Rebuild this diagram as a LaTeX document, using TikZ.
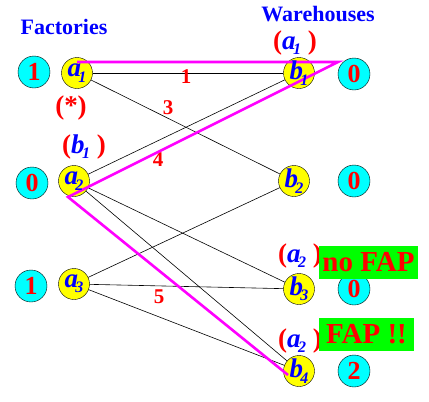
\documentclass[tikz,border=0pt]{standalone}
\usepackage{fontspec}
\setmainfont{Liberation Serif}
\definecolor{mag}{RGB}{255,0,255}
\definecolor{cy}{RGB}{0,255,255}
\definecolor{ye}{RGB}{255,255,0}
\definecolor{gr}{RGB}{0,255,0}
\definecolor{bl}{RGB}{0,0,255}
\definecolor{rd}{RGB}{255,0,0}
\newcommand{\lab}[2]{\textcolor{bl}{\fontsize{27}{27}\selectfont\bfseries\itshape #1\kern-0.1em\raisebox{-0.2em}{\fontsize{16}{16}\selectfont #2}}}
\newcommand{\plab}[2]{\textcolor{rd}{(}\lab{#1}{#2}\textcolor{rd}{\ )}}
\begin{document}
\begin{tikzpicture}[x=1pt,y=-1pt,
  fac/.style={circle,draw,fill=ye,minimum size=31pt,inner sep=0pt},
  ftext/.style={inner sep=0pt},
  numc/.style={circle,draw,fill=cy,minimum size=32pt,inner sep=0pt,text=rd,font=\fontsize{26}{26}\selectfont\bfseries},
  head/.style={text=bl,font=\fontsize{22}{22}\selectfont\bfseries},
  wlab/.style={text=rd,font=\fontsize{21}{21}\selectfont\bfseries},
  plabel/.style={text=rd,font=\fontsize{27}{27}\selectfont\bfseries,inner sep=0pt},
  fap/.style={fill=gr,text=rd,font=\fontsize{29}{29}\selectfont\bfseries,inner sep=0pt,minimum height=33pt},
  edge/.style={draw,line width=0.6pt},
  path/.style={draw=mag,line width=2.6pt}
]
\useasboundingbox (0,0) rectangle (429,402);
\fill[white] (0,0) rectangle (429,402);
% headings
\node[head] (hf) at (64,27) {Factories};
\node[head] (hw) at (318,14) {Warehouses};
% supply / demand numbers
\node[numc] (s1) at (34,72) {1};
\node[numc] (s2) at (32,183) {0};
\node[numc] (s3) at (31,286) {1};
\node[numc] (d1) at (354,74) {0};
\node[numc] (d2) at (354,181) {0};
\node[numc] (d3) at (354,289) {0};
\node[numc] (d4) at (354,371) {2};
% factories and warehouses
\node[fac] (a1) at (77,73) {};
\node[fac] (a2) at (74,181) {};
\node[fac] (a3) at (74,284) {};
\node[fac] (b1) at (299,73) {};
\node[fac] (b2) at (294,181) {};
\node[fac] (b3) at (299,289) {};
\node[fac] (b4) at (299,371) {};
% edges
\draw[edge] (a1) -- (b1);
\draw[edge] (a1) -- (b2);
\draw[edge] (a2) -- (b1);
\draw[edge] (a2) -- (b3);
\draw[edge] (a2) -- (b4);
\draw[edge] (a3) -- (b2);
\draw[edge] (a3) -- (b3);
\draw[edge] (a3) -- (b4);
% edge labels
\node[wlab] (w1) at (186,77) {1};
\node[wlab] (w3) at (168,108) {3};
\node[wlab] (w4) at (158,160) {4};
\node[wlab] (w5) at (159,297) {5};
% magenta path
\coordinate (m1) at (77,62);
\coordinate (m2) at (338,62);
\coordinate (m3) at (68,197);
\coordinate (m4) at (288,375);
\draw[path,line join=miter] (m1) -- (m2) -- (m3) -- (m4);
% node texts (on top of the path)
\node[ftext] (a1t) at (a1) {\lab{a}{1}};
\node[ftext] (a2t) at (a2) {\lab{a}{2}};
\node[ftext] (a3t) at (a3) {\lab{a}{3}};
\node[ftext] (b1t) at (b1) {\lab{b}{1}};
\node[ftext] (b2t) at (b2) {\lab{b}{2}};
\node[ftext] (b3t) at (b3) {\lab{b}{3}};
\node[ftext] (b4t) at (b4) {\lab{b}{4}};
% labels
\node[plabel] (star) at (71,108) {(*)};
\node[plabel] (lb1) at (84,147) {\plab{b}{1}};
\node[plabel] (la1) at (295,43) {\plab{a}{1}};
\node[plabel] (la2) at (300,256) {\plab{a}{2}};
\node[plabel] (la3) at (300,341) {\plab{a}{2}};
% FAP boxes
\node[fap,minimum width=99pt] (nofap) at (368.5,262.5) {no FAP};
\node[fap,minimum width=95pt] (fapok) at (366.5,334.5) {FAP !!};
\end{tikzpicture}
\end{document}
